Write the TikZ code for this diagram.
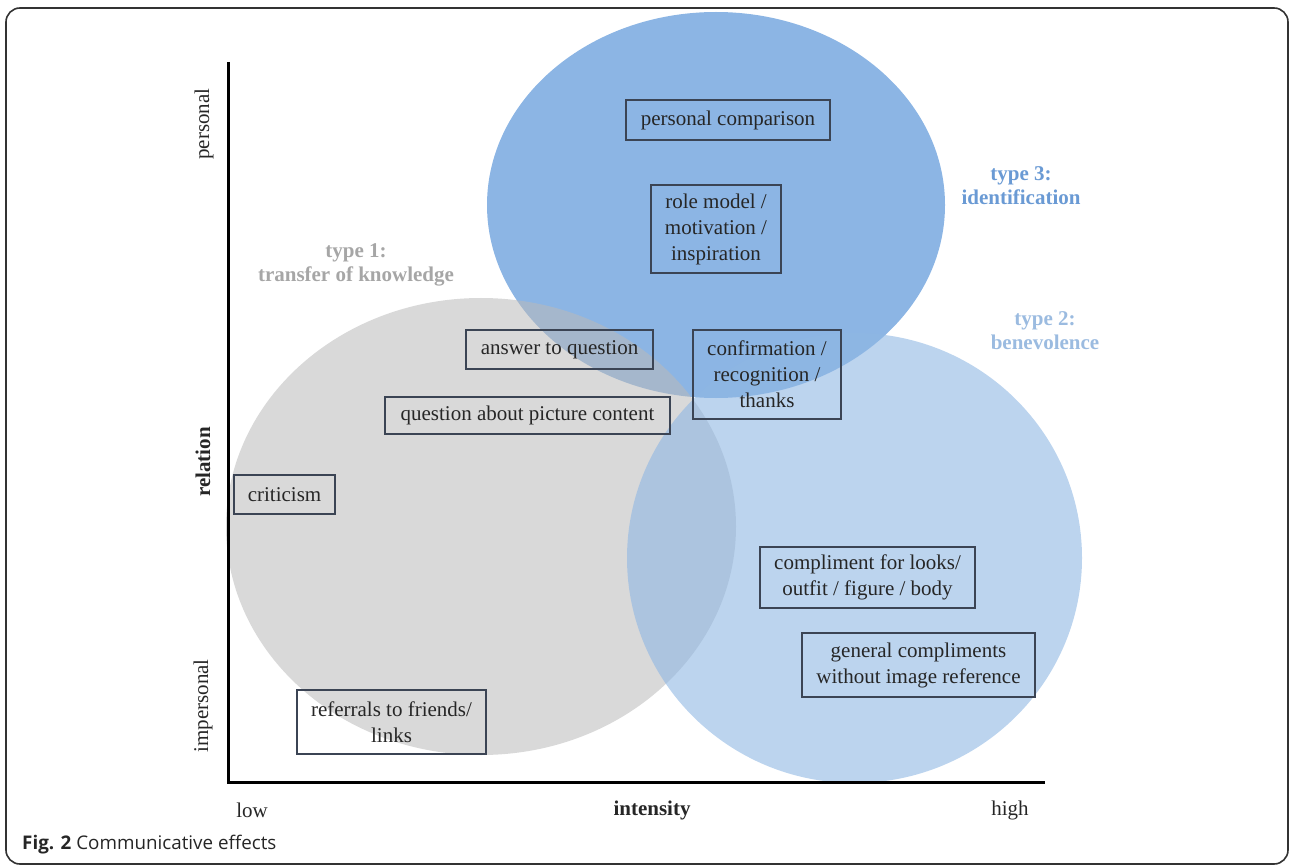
\documentclass[tikz,border=0pt]{standalone}
\usepackage{fontspec}
\setmainfont{Liberation Serif}
\newfontfamily\capfont{Open Sans}
\definecolor{boxc}{HTML}{3B4454}
\definecolor{txt}{HTML}{262626}
\definecolor{grayfill}{HTML}{BABABA}
\definecolor{darkblue}{HTML}{8CB5E4}
\definecolor{lightblue}{RGB}{143,183,227}
\definecolor{typeone}{HTML}{A6A6A6}
\definecolor{typethree}{HTML}{6A9AD4}
\definecolor{typetwo}{HTML}{9BBBE0}
\definecolor{framec}{HTML}{333333}
\begin{document}
\begin{tikzpicture}[x=1pt,y=-1pt,
  box/.style={draw=boxc, line width=1.6pt, text=txt, align=center, inner sep=0pt,
    font=\fontsize{21}{26}\selectfont},
  typelabel/.style={align=center, font=\fontsize{21}{24}\selectfont\bfseries},
  axislabel/.style={text=txt, font=\fontsize{21}{25}\selectfont},
  axisline/.style={line width=3pt, draw=black},
]
\useasboundingbox (0,0) rectangle (1292,866);
\draw[framec, line width=1.6pt, rounded corners=14pt] (6,8) rectangle (1288,864);

% ellipses
\fill[darkblue] (716,205) ellipse [x radius=229pt, y radius=193pt];
\fill[grayfill, opacity=0.55] (481,526.5) ellipse [x radius=255pt, y radius=228.5pt];
\fill[lightblue, opacity=0.6] (854.5,558) ellipse [x radius=227.5pt, y radius=225pt];

% axes
\coordinate (ytop) at (228,62);
\coordinate (orig) at (228,782);
\coordinate (xend) at (1045,782);
\draw[axisline] (ytop) -- (orig) -- (xend);

% axis labels
\node[axislabel, rotate=90] (personal) at (204,124) {personal};
\node[axislabel, rotate=90, font=\fontsize{21}{25}\selectfont\bfseries] (relation) at (203,462) {relation};
\node[axislabel, rotate=90] (impersonal) at (203,706) {impersonal};
\node[axislabel] (low) at (252,810) {low};
\node[axislabel, font=\fontsize{21}{25}\selectfont\bfseries] (intensity) at (652,810) {intensity};
\node[axislabel] (high) at (1010,810) {high};

% type labels
\node[typelabel, text=typeone] (t1) at (356,265) {type 1:\\transfer of knowledge};
\node[typelabel, text=typethree] (t3) at (1021,186) {type 3:\\identification};
\node[typelabel, text=typetwo] (t2) at (1045,331) {type 2:\\benevolence};

% boxes
\node[box, minimum width=204pt, minimum height=40pt] (pc) at (728,120) {personal comparison};
\node[box, minimum width=130pt, minimum height=88pt] (rm) at (716,229) {role model /\\motivation /\\inspiration};
\node[box, minimum width=187pt, minimum height=39pt] (aq) at (559.5,349.5) {answer to question};
\node[box, minimum width=285pt, minimum height=37pt] (qp) at (527.5,415.5) {question about picture content};
\node[box, minimum width=148pt, minimum height=89pt] (cf) at (767,374.5) {confirmation /\\recognition /\\thanks};
\node[box, minimum width=101pt, minimum height=39pt] (cr) at (284.5,494.5) {criticism};
\node[box, minimum width=215pt, minimum height=61pt] (cl) at (867.5,577.5) {compliment for looks/\\outfit / figure / body};
\node[box, minimum width=233pt, minimum height=64pt] (gc) at (918.5,665) {general compliments\\without image reference};
\node[box, minimum width=189pt, minimum height=64pt] (rf) at (391.5,722) {referrals to friends/\\links};

% caption
\node[anchor=west, inner sep=0pt, text=txt, font=\capfont\fontsize{18.8}{22}\selectfont] (cap) at (22,845) {\textbf{Fig. 2} Communicative effects};
\end{tikzpicture}
\end{document}
